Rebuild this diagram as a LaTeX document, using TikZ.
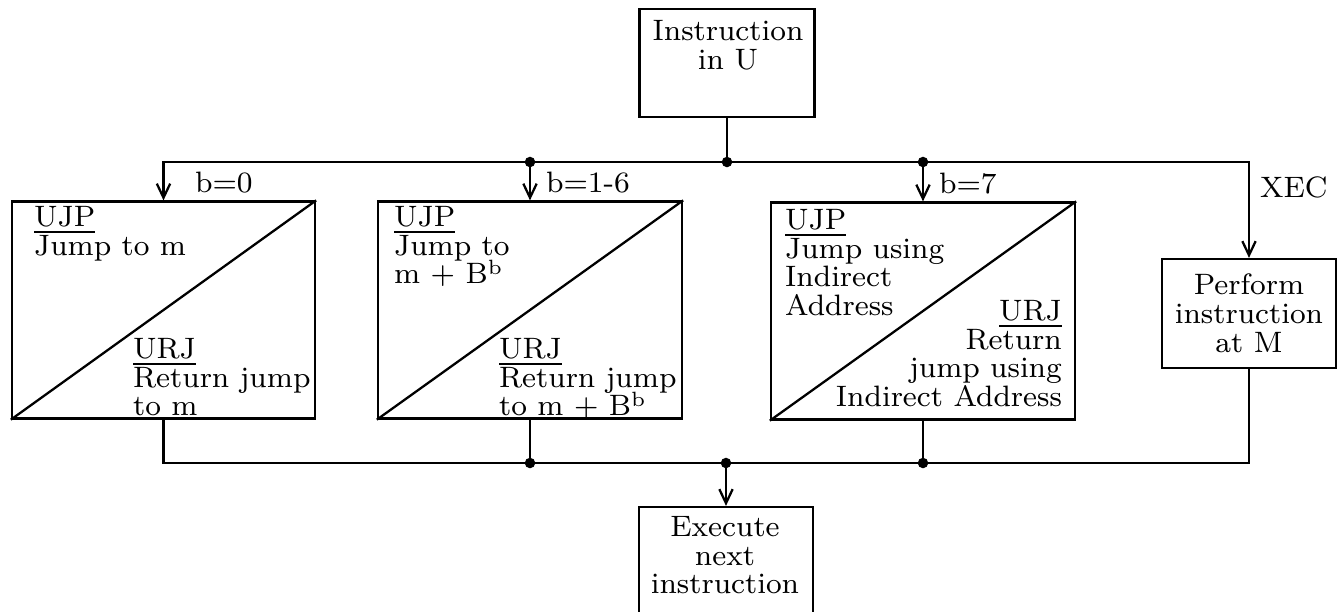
\documentclass[tikz,border=0pt]{standalone}
\usepackage{fontspec}
\usetikzlibrary{arrows.meta}
\newcommand\diagfont{\fontsize{8.4}{8.2}\selectfont\lineskiplimit=-6pt\relax}

\begin{document}
\begin{tikzpicture}
[box/.style={draw, line width=.65pt, inner sep=0pt},
 txt/.style={inner sep=0pt, align=left, font=\diagfont},
 >={Straight Barb[length=4pt,width=3.8pt]}, line width=.65pt]
\useasboundingbox (0,0) rectangle (13.38,-6.11);

% boxes
\node (instr) at (7.27,-0.63) [box, minimum width=1.75cm, minimum height=1.08cm] {};
\node (jump0) at (1.635,-3.10) [box, minimum width=3.03cm, minimum height=2.17cm] {};
\node (jump16) at (5.30,-3.10) [box, minimum width=3.04cm, minimum height=2.17cm] {};
\node (jump7) at (9.23,-3.11) [box, minimum width=3.04cm, minimum height=2.17cm] {};
\node (perform) at (12.49,-3.135) [box, minimum width=1.74cm, minimum height=1.09cm, txt, align=center] {Perform\\instruction\\at M};
\node (exec) at (7.26,-5.70) [box, minimum width=1.74cm, minimum height=1.26cm] {};

\draw (jump0.south west) -- (jump0.north east);
\draw (jump16.south west) -- (jump16.north east);
\draw (jump7.south west) -- (jump7.north east);

% texts
\node (instrtxt) at (7.28,-0.19) [txt, anchor=north, align=center] {Instruction\\in U};
\node (exectxt) at (7.25,-5.15) [txt, anchor=north, align=center] {Execute\\next\\instruction};
\node (ujp0) at (0.33,-2.05) [txt, anchor=north west] {\underline{UJP}\\Jump to m};
\node (urj0) at (1.32,-3.37) [txt, anchor=north west] {\underline{URJ}\\Return jump\\to m};
\node (ujp16) at (3.93,-2.05) [txt, anchor=north west] {\underline{UJP}\\Jump to\\m + B\textsuperscript{b}};
\node (urj16) at (4.98,-3.37) [txt, anchor=north west] {\underline{URJ}\\Return jump\\to m + B\textsuperscript{b}};
\node (ujp7) at (7.84,-2.08) [txt, anchor=north west] {\underline{UJP}\\Jump using\\Indirect\\Address};
\node (urj7) at (10.63,-2.99) [txt, anchor=north east, align=right] {\underline{URJ}\\Return\\jump using\\Indirect Address};

% labels
\node (b0) at (1.94,-1.92) [txt, anchor=base west] {b=0};
\node (b16) at (5.45,-1.92) [txt, anchor=base west] {b=1-6};
\node (b7) at (9.38,-1.93) [txt, anchor=base west] {b=7};
\node (xec) at (12.59,-1.97) [txt, anchor=base west] {XEC};

% junctions
\coordinate (topj) at (7.27,-1.62);
\coordinate (top16) at (5.30,-1.62);
\coordinate (top7) at (9.23,-1.62);
\coordinate (botj) at (7.26,-4.63);
\coordinate (bot16) at (5.30,-4.63);
\coordinate (bot7) at (9.23,-4.63);

\draw (instr) -- (topj);
\draw [->] (topj) -| (jump0.north);
\draw [->] (topj) -| (perform.north);
\draw [->] (top16) -- (jump16.north);
\draw [->] (top7) -- (jump7.north);

\draw (jump0.south) |- (botj);
\draw (perform.south) |- (botj);
\draw (jump16) -- (bot16);
\draw (jump7) -- (bot7);
\draw [->] (botj) -- (exec.north);

\foreach \j in {topj,top16,top7,botj,bot16,bot7}
  \fill (\j) circle (1.5pt);
\end{tikzpicture}
\end{document}
